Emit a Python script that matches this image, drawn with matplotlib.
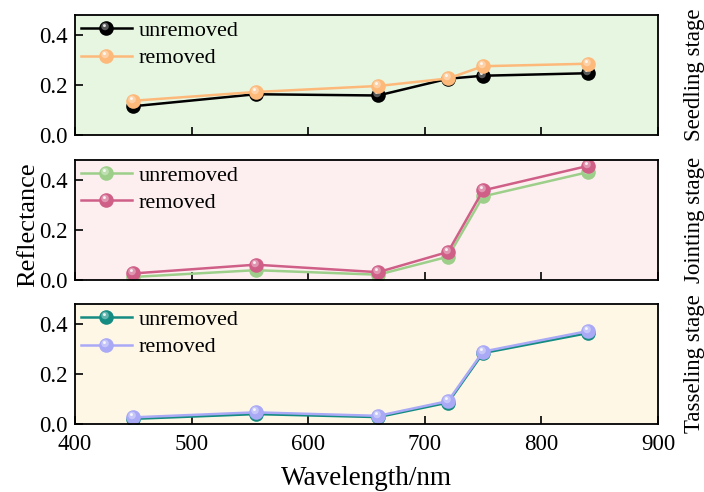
import numpy as np
import matplotlib
matplotlib.use("Agg")
import matplotlib.pyplot as plt
from matplotlib.path import Path
from matplotlib.legend_handler import HandlerTuple

plt.rcParams['font.family'] = ['Liberation Serif', 'DejaVu Serif']

wavelength = [450, 555, 660, 720, 750, 840]
stages = ["Seedling stage", "Jointing stage", "Tasseling stage"]
series_labels = ["unremoved", "removed"]

seedling_unremoved = [0.115, 0.163, 0.158, 0.225, 0.237, 0.247]
seedling_removed = [0.137, 0.172, 0.196, 0.226, 0.275, 0.285]
jointing_unremoved = [0.012, 0.039, 0.021, 0.093, 0.334, 0.431]
jointing_removed = [0.026, 0.061, 0.031, 0.112, 0.358, 0.456]
tasseling_unremoved = [0.021, 0.040, 0.028, 0.086, 0.284, 0.364]
tasseling_removed = [0.027, 0.047, 0.033, 0.092, 0.290, 0.372]

panel_data = [(seedling_unremoved, seedling_removed),
              (jointing_unremoved, jointing_removed),
              (tasseling_unremoved, tasseling_removed)]
panel_colors = [("#000000", "#fdb97a"),
                ("#9dcf8a", "#cf5f87"),
                ("#148c82", "#a9a9f6")]
panel_bg = ["#e6f6e1", "#fdeff0", "#fef7e6"]

yticks = [0.0, 0.2, 0.4]
xticks = [400, 500, 600, 700, 800, 900]


def highlight_path(cx, cy, r):
    pad = Path([(-0.5, -0.5), (0.5, 0.5)], [Path.MOVETO, Path.MOVETO])
    circ = Path.circle((cx, cy), r)
    return Path.make_compound_path(pad, circ)


hl_big = highlight_path(-0.1, 0.14, 0.26)
hl_small = highlight_path(-0.14, 0.2, 0.1)

fig = plt.figure(figsize=(7.04, 4.92), dpi=100)
left, width, height = 0.1065, 0.828, 0.244
bottoms = [0.7256, 0.431, 0.138]
ms = 10.5

for i, (stage, (un, rem), (c_un, c_rem), bg, b) in enumerate(
        zip(stages, panel_data, panel_colors, panel_bg, bottoms)):
    ax = fig.add_axes([left, b, width, height])
    ax.set_facecolor(bg)
    handles = []
    for vals, col, lab in zip((un, rem), (c_un, c_rem), series_labels):
        ln, = ax.plot(wavelength, vals, color=col, lw=1.8, marker='o', ms=ms,
                      markeredgewidth=0, label=lab)
        h1, = ax.plot(wavelength, vals, ls='none', marker=hl_big, ms=ms,
                      markeredgewidth=0, color='white', alpha=0.35)
        h2, = ax.plot(wavelength, vals, ls='none', marker=hl_small, ms=ms,
                      markeredgewidth=0, color='white', alpha=0.85)
        handles.append((ln, h1, h2))
    ax.set_xlim(400, 900)
    ax.set_ylim(0, 0.48)
    ax.set_xticks(xticks)
    ax.set_yticks(yticks)
    ax.set_yticklabels([f"{t:.1f}" for t in yticks])
    ax.tick_params(direction='in', length=6, width=1.2, labelsize=16.5,
                   top=False, right=False)
    ax.tick_params(axis='x', pad=7)
    ax.tick_params(axis='y', pad=5)
    if i < 2:
        ax.tick_params(labelbottom=False)
    for s in ax.spines.values():
        s.set_linewidth(1.3)
    ax.legend(handles, series_labels, loc='upper left', frameon=False,
              fontsize=16, handlelength=2.3, handletextpad=0.3,
              labelspacing=0.3, borderaxespad=0.1, borderpad=0.15,
              handler_map={tuple: HandlerTuple(ndivide=1)})
    ax.text(1.062, 0.5, stage, transform=ax.transAxes, rotation=90,
            va='center', ha='center', fontsize=16.5)

fig.text(0.04, 0.543, "Reflectance", rotation=90, va='center', ha='center',
         fontsize=19)
fig.text(0.521, 0.027, "Wavelength/nm", va='center', ha='center', fontsize=19.5)

fig.savefig("out.png", dpi=100)
